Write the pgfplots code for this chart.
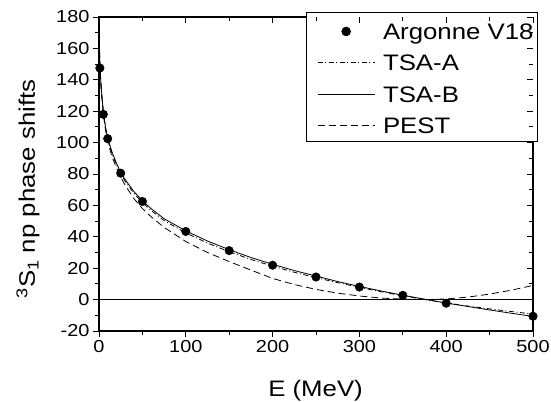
\documentclass[border=0pt]{standalone}
\usepackage{fontspec}
\setmainfont{Liberation Sans}[FakeStretch=1.15]
\usepackage{pgfplots}
\pgfplotsset{compat=1.18}
\begin{document}
\begin{tikzpicture}
\useasboundingbox (-99bp,-71bp) rectangle (452bp,331bp);
\begin{axis}[
  scale only axis, width=434bp, height=314bp,
  xmin=0, xmax=500, ymin=-20, ymax=180,
  xtick={0,100,...,500}, ytick={-20,0,...,180},
  minor x tick num=1, minor y tick num=1,
  xtick pos=left, ytick pos=left,
  tick align=outside,
  major tick length=6bp, minor tick length=4bp,
  tick style={black, line width=0.9bp},
  axis line style={line width=1.2bp},
  ticklabel style={font=\fontsize{17.4}{20}\selectfont},
  /pgf/number format/assume math mode=true,
  /pgf/number format/1000 sep={},
  xlabel={E (MeV)},
  ylabel={\textsuperscript{3}S\textsubscript{1} np phase shifts},
  label style={font=\fontsize{22.5}{27}\selectfont},
  xlabel style={at={(axis description cs:0.499,-0.21)}, anchor=base},
  ylabel style={at={(axis description cs:-0.1475,0.452)}, anchor=base},
  legend cell align=left,
  legend image code/.code={\path (0bp,0bp); \draw[mark repeat=2,mark phase=2,#1] plot coordinates {(7bp,-1.8bp) (35.5bp,-1.8bp) (64bp,-1.8bp)};},
  legend style={at={(axis description cs:1.0115,1.016)}, anchor=north east,
    draw=black, line width=0.9bp,
    font=\fontsize{22.5}{27}\selectfont,
    inner xsep=4bp, inner ysep=2.5bp, row sep=1.9bp, column sep=8bp,
    nodes={inner xsep=0bp, inner ysep=0.5bp, text height=24.1bp, text depth=4.4bp}},
]
\addplot[black, line width=0.8bp, forget plot] coordinates {(0,0) (500,0)};
\addplot[black, only marks, mark=*, mark size=4.3bp] coordinates {
(1,147.5) (5,118) (10,102.5) (25,80.5) (50,62.5) (100,43.4) (150,31.2) (200,21.9) (250,14.4) (300,8) (350,2.7) (400,-2.3) (500,-10.6)};
\addlegendentry{Argonne V18}
\addplot[black, line width=0.8bp, dash pattern=on 5bp off 2.5bp on 1bp off 2.5bp] coordinates {
(0,180) (0.2,170) (0.5,161) (1,150) (2,139) (3,131) (5,119) (7.5,109) (10,102) (15,93) (20,86) (25,80) (30,75.5) (40,67.8) (50,61.8) (60,56.8) (75,50.3) (100,42.5) (125,36) (150,30.5) (175,25.6) (200,21.3) (225,17.4) (250,14) (275,10.8) (300,7.8) (325,5) (350,2.4) (375,0) (400,-2.1) (425,-4.1) (450,-5.9) (475,-7.6) (500,-9.2)};
\addlegendentry{TSA-A}
\addplot[black, line width=0.8bp] coordinates {
(0,180) (0.2,170) (0.5,162) (1,151) (2,140) (3,132) (5,120) (7.5,110) (10,103) (15,94) (20,87) (25,81) (30,76.5) (40,69) (50,63) (60,58) (75,51.5) (100,43.8) (125,37.3) (150,31.8) (175,26.8) (200,22.5) (225,18.5) (250,15) (275,11.5) (300,8.4) (325,5.5) (350,2.8) (375,0.3) (400,-2.2) (425,-4.4) (450,-6.6) (475,-8.7) (500,-10.7)};
\addlegendentry{TSA-B}
\addplot[black, line width=0.8bp, dash pattern=on 7bp off 4bp] coordinates {
(0,180) (0.2,169) (0.5,160) (1,149) (2,138) (3,130) (5,118) (7.5,108) (10,100.5) (15,91) (20,84) (25,78) (30,73) (40,64.5) (50,58) (60,52.8) (75,46) (100,37) (125,30) (150,24.2) (175,18.8) (200,13.5) (225,9.6) (250,6.5) (275,4.1) (300,2.3) (325,1) (350,0.3) (375,0) (400,0.4) (425,1.6) (450,3.5) (475,6) (500,9)};
\addlegendentry{PEST}
\end{axis}
\begin{axis}[
  scale only axis, width=434bp, height=314bp,
  xmin=0, xmax=500, ymin=-20, ymax=180,
  xtick={0,100,...,500}, ytick={-20,0,...,180},
  minor x tick num=1, minor y tick num=1,
  xtick pos=right, ytick pos=right,
  xticklabels=\empty, yticklabels=\empty,
  tick align=inside,
  major tick length=6bp, minor tick length=4bp,
  tick style={black, line width=0.9bp},
  axis line style={draw=none},
]
\end{axis}
\end{tikzpicture}
\end{document}
